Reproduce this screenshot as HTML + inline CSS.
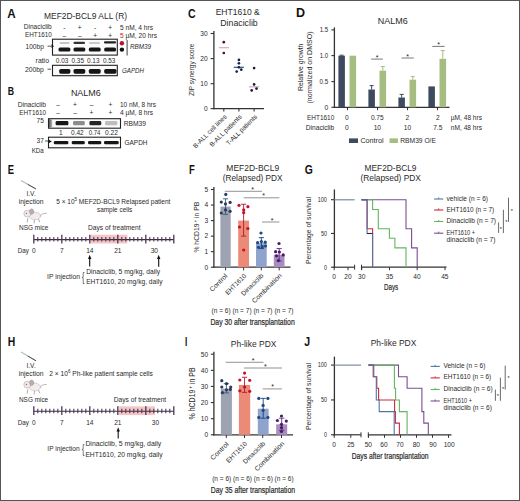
<!DOCTYPE html>
<html><head><meta charset="utf-8"><title>Figure</title>
<style>
html,body{margin:0;padding:0;background:#fff;}
body{width:520px;height:501px;overflow:hidden;}
svg{display:block;font-family:"Liberation Sans", sans-serif;}
</style></head>
<body>
<svg width="520" height="501" viewBox="0 0 520 501">
<defs><filter id="bl" x="-20%" y="-50%" width="140%" height="200%"><feGaussianBlur stdDeviation="0.35"/></filter>
<linearGradient id="gstrip" x1="0" y1="0" x2="1" y2="0"><stop offset="0" stop-color="#555"/><stop offset="1" stop-color="#bbb"/></linearGradient></defs>
<rect x="0" y="0" width="520" height="501" fill="#fff"/>
<text x="7.20" y="17.80" font-size="12.15" fill="#111" font-weight="bold" textLength="8.43" lengthAdjust="spacingAndGlyphs" >A</text>
<text x="44.00" y="18.54" font-size="8.5" fill="#2a2a2a" textLength="83.04" lengthAdjust="spacingAndGlyphs" >MEF2D-BCL9 ALL (R)</text>
<text x="23.80" y="29.16" font-size="6.6" fill="#2a2a2a" textLength="27.89" lengthAdjust="spacingAndGlyphs" >Dinaciclib</text>
<text x="25.00" y="37.16" font-size="6.6" fill="#2a2a2a" textLength="26.73" lengthAdjust="spacingAndGlyphs" >EHT1610</text>
<text x="64.40" y="29.56" font-size="6.6" fill="#2a2a2a" text-anchor="middle">-</text>
<text x="79.80" y="29.56" font-size="6.6" fill="#2a2a2a" text-anchor="middle">+</text>
<text x="95.20" y="29.56" font-size="6.6" fill="#2a2a2a" text-anchor="middle">-</text>
<text x="110.20" y="29.56" font-size="6.6" fill="#2a2a2a" text-anchor="middle">+</text>
<text x="64.40" y="37.66" font-size="6.6" fill="#2a2a2a" text-anchor="middle">–</text>
<text x="79.80" y="37.66" font-size="6.6" fill="#2a2a2a" text-anchor="middle">–</text>
<text x="95.20" y="37.66" font-size="6.6" fill="#2a2a2a" text-anchor="middle">+</text>
<text x="110.20" y="37.66" font-size="6.6" fill="#2a2a2a" text-anchor="middle">+</text>
<text x="120.00" y="29.76" font-size="6.6" fill="#2a2a2a" textLength="33.01" lengthAdjust="spacingAndGlyphs" >5 nM, 4 hrs</text>
<text x="120" y="37.76" font-size="6.6" fill="#2a2a2a" textLength="37" lengthAdjust="spacingAndGlyphs"><tspan fill="#c8102e">5</tspan> µM, 20 hrs</text>
<rect x="52.50" y="39.20" width="64.80" height="15.90" fill="#fbfbfb" stroke="#222" stroke-width="1.1"/>
<rect x="59.60" y="42.00" width="10.00" height="2.00" rx="1" fill="#c6c6c6" filter="url(#bl)"/>
<rect x="73.50" y="41.70" width="11.50" height="2.20" rx="1" fill="#333" filter="url(#bl)"/>
<rect x="89.00" y="42.00" width="11.00" height="2.00" rx="1" fill="#cacaca" filter="url(#bl)"/>
<rect x="104.00" y="41.30" width="12.00" height="2.30" rx="1" fill="#222" filter="url(#bl)"/>
<rect x="58.50" y="47.50" width="11.90" height="4.10" rx="1.6" fill="#141414" filter="url(#bl)"/>
<rect x="73.50" y="47.50" width="11.80" height="4.10" rx="1.6" fill="#141414" filter="url(#bl)"/>
<rect x="88.80" y="47.50" width="11.90" height="4.10" rx="1.6" fill="#141414" filter="url(#bl)"/>
<rect x="104.20" y="47.50" width="11.80" height="4.10" rx="1.6" fill="#141414" filter="url(#bl)"/>
<text x="25.60" y="48.56" font-size="6.6" fill="#2a2a2a" textLength="18.20" lengthAdjust="spacingAndGlyphs" >100bp</text>
<line x1="47.50" y1="46.20" x2="51.00" y2="46.20" stroke="#2a2a2a" stroke-width="0.8" />
<path d="M51.5 44.3 L54 46.2 L51.5 48.1 Z" fill="#111"/>
<circle cx="121.90" cy="43.20" r="2.2" fill="#b5123a"/>
<circle cx="121.90" cy="49.60" r="2.2" fill="#111"/>
<line x1="127.10" y1="40.00" x2="127.10" y2="55.50" stroke="#2a2a2a" stroke-width="0.9" />
<text x="130.00" y="48.86" font-size="6.6" fill="#2a2a2a" font-style="italic" textLength="21.03" lengthAdjust="spacingAndGlyphs" >RBM39</text>
<text x="35.60" y="62.66" font-size="6.6" fill="#2a2a2a" textLength="13.37" lengthAdjust="spacingAndGlyphs" >ratio</text>
<text x="55.80" y="62.66" font-size="6.6" fill="#2a2a2a" textLength="12.47" lengthAdjust="spacingAndGlyphs" >0.03</text>
<text x="71.50" y="62.66" font-size="6.6" fill="#2a2a2a" textLength="12.47" lengthAdjust="spacingAndGlyphs" >0.35</text>
<text x="87.00" y="62.66" font-size="6.6" fill="#2a2a2a" textLength="12.47" lengthAdjust="spacingAndGlyphs" >0.13</text>
<text x="103.00" y="62.66" font-size="6.6" fill="#2a2a2a" textLength="12.38" lengthAdjust="spacingAndGlyphs" >0.53</text>
<rect x="52.50" y="65.30" width="64.80" height="10.40" fill="#fbfbfb" stroke="#222" stroke-width="1.1"/>
<rect x="59.20" y="69.00" width="11.20" height="4.70" rx="1.6" fill="#141414" filter="url(#bl)"/>
<rect x="73.50" y="69.00" width="11.80" height="4.70" rx="1.6" fill="#141414" filter="url(#bl)"/>
<rect x="88.80" y="69.00" width="11.90" height="4.70" rx="1.6" fill="#141414" filter="url(#bl)"/>
<rect x="104.20" y="69.00" width="12.30" height="4.70" rx="1.6" fill="#141414" filter="url(#bl)"/>
<text x="25.00" y="71.56" font-size="6.6" fill="#2a2a2a" textLength="18.80" lengthAdjust="spacingAndGlyphs" >200bp</text>
<line x1="47.50" y1="69.20" x2="51.00" y2="69.20" stroke="#2a2a2a" stroke-width="0.8" />
<text x="122.00" y="73.36" font-size="6.6" fill="#2a2a2a" font-style="italic" textLength="21.98" lengthAdjust="spacingAndGlyphs" >GAPDH</text>
<text x="7.80" y="95.10" font-size="11.59" fill="#111" font-weight="bold" textLength="6.32" lengthAdjust="spacingAndGlyphs" >B</text>
<text x="70.90" y="95.70" font-size="8.6" fill="#2a2a2a" textLength="29.94" lengthAdjust="spacingAndGlyphs" >NALM6</text>
<text x="17.70" y="106.96" font-size="6.6" fill="#2a2a2a" textLength="28.29" lengthAdjust="spacingAndGlyphs" >Dinaciclib</text>
<text x="19.20" y="114.76" font-size="6.6" fill="#2a2a2a" textLength="26.83" lengthAdjust="spacingAndGlyphs" >EHT1610</text>
<text x="58.00" y="107.16" font-size="6.6" fill="#2a2a2a" text-anchor="middle">–</text>
<text x="75.00" y="107.16" font-size="6.6" fill="#2a2a2a" text-anchor="middle">+</text>
<text x="91.50" y="107.16" font-size="6.6" fill="#2a2a2a" text-anchor="middle">–</text>
<text x="110.50" y="107.16" font-size="6.6" fill="#2a2a2a" text-anchor="middle">+</text>
<text x="58.00" y="114.86" font-size="6.6" fill="#2a2a2a" text-anchor="middle">–</text>
<text x="75.00" y="114.86" font-size="6.6" fill="#2a2a2a" text-anchor="middle">–</text>
<text x="91.50" y="114.86" font-size="6.6" fill="#2a2a2a" text-anchor="middle">+</text>
<text x="110.50" y="114.86" font-size="6.6" fill="#2a2a2a" text-anchor="middle">+</text>
<text x="120.00" y="107.36" font-size="6.6" fill="#2a2a2a" textLength="35.98" lengthAdjust="spacingAndGlyphs" >10 nM, 8 hrs</text>
<text x="120.00" y="114.96" font-size="6.6" fill="#2a2a2a" textLength="33.01" lengthAdjust="spacingAndGlyphs" >4 µM, 8 hrs</text>
<text x="36.50" y="122.76" font-size="6.6" fill="#2a2a2a" textLength="7.31" lengthAdjust="spacingAndGlyphs" >75</text>
<rect x="48.50" y="118.70" width="72.00" height="9.50" fill="#fbfbfb" stroke="#222" stroke-width="1.1"/>
<rect x="49" y="119.2" width="3.2" height="8.5" fill="url(#gstrip)"/>
<rect x="55.60" y="121.00" width="12.80" height="4.30" rx="1.4" fill="#181818" filter="url(#bl)"/>
<rect x="73.00" y="121.00" width="11.80" height="4.30" rx="1.4" fill="#8c8c8c" filter="url(#bl)"/>
<rect x="89.40" y="121.00" width="11.90" height="4.30" rx="1.4" fill="#262626" filter="url(#bl)"/>
<rect x="105.00" y="121.00" width="12.40" height="4.30" rx="1.4" fill="#bdbdbd" filter="url(#bl)"/>
<text x="123.75" y="126.11" font-size="6.6" fill="#2a2a2a" textLength="22.28" lengthAdjust="spacingAndGlyphs" >RBM39</text>
<text x="60.75" y="135.36" font-size="6.6" fill="#2a2a2a" text-anchor="middle">1</text>
<text x="71.00" y="135.36" font-size="6.6" fill="#2a2a2a" textLength="12.72" lengthAdjust="spacingAndGlyphs" >0.42</text>
<text x="88.75" y="135.36" font-size="6.6" fill="#2a2a2a" textLength="11.73" lengthAdjust="spacingAndGlyphs" >0.74</text>
<text x="105.00" y="135.36" font-size="6.6" fill="#2a2a2a" textLength="12.97" lengthAdjust="spacingAndGlyphs" >0.22</text>
<text x="36.50" y="143.36" font-size="6.6" fill="#2a2a2a" textLength="7.31" lengthAdjust="spacingAndGlyphs" >37</text>
<line x1="45.00" y1="141.00" x2="48.00" y2="141.00" stroke="#2a2a2a" stroke-width="0.8" />
<rect x="48.50" y="137.20" width="72.00" height="10.60" fill="#fbfbfb" stroke="#222" stroke-width="1.1"/>
<rect x="53.80" y="140.90" width="14.60" height="3.40" rx="1.4" fill="#161616" filter="url(#bl)"/>
<rect x="71.70" y="140.90" width="13.10" height="3.40" rx="1.4" fill="#161616" filter="url(#bl)"/>
<rect x="88.00" y="140.90" width="13.30" height="3.40" rx="1.4" fill="#161616" filter="url(#bl)"/>
<rect x="104.00" y="140.90" width="14.70" height="3.40" rx="1.4" fill="#161616" filter="url(#bl)"/>
<path d="M48.6 139.6 L51.8 141.4 L48.6 143.2 Z" fill="#111"/>
<text x="124.50" y="144.96" font-size="6.6" fill="#2a2a2a" textLength="22.98" lengthAdjust="spacingAndGlyphs" >GAPDH</text>
<text x="31.70" y="153.16" font-size="6.6" fill="#2a2a2a" textLength="12.07" lengthAdjust="spacingAndGlyphs" >KDa</text>
<text x="188.00" y="17.60" font-size="12.43" fill="#111" font-weight="bold" textLength="7.62" lengthAdjust="spacingAndGlyphs" >C</text>
<text x="215.70" y="14.74" font-size="8.5" fill="#2a2a2a" textLength="44.09" lengthAdjust="spacingAndGlyphs" >EHT1610 &amp;</text>
<text x="220.30" y="25.64" font-size="8.5" fill="#2a2a2a" textLength="37.39" lengthAdjust="spacingAndGlyphs" >Dinaciclib</text>
<line x1="213.90" y1="30.90" x2="213.90" y2="109.20" stroke="#333" stroke-width="1.3" />
<line x1="213.30" y1="108.60" x2="264.00" y2="108.60" stroke="#333" stroke-width="1.3" />
<line x1="210.60" y1="33.50" x2="213.90" y2="33.50" stroke="#333" stroke-width="1.1" />
<text x="207.60" y="35.86" font-size="6.6" fill="#2a2a2a" text-anchor="end">30</text>
<line x1="210.60" y1="58.60" x2="213.90" y2="58.60" stroke="#333" stroke-width="1.1" />
<text x="207.60" y="60.96" font-size="6.6" fill="#2a2a2a" text-anchor="end">20</text>
<line x1="210.60" y1="83.70" x2="213.90" y2="83.70" stroke="#333" stroke-width="1.1" />
<text x="207.60" y="86.06" font-size="6.6" fill="#2a2a2a" text-anchor="end">10</text>
<line x1="210.60" y1="108.60" x2="213.90" y2="108.60" stroke="#333" stroke-width="1.1" />
<text x="207.60" y="110.96" font-size="6.6" fill="#2a2a2a" text-anchor="end">0</text>
<line x1="223.80" y1="108.60" x2="223.80" y2="111.50" stroke="#333" stroke-width="1.1" />
<line x1="238.90" y1="108.60" x2="238.90" y2="111.50" stroke="#333" stroke-width="1.1" />
<line x1="254.10" y1="108.60" x2="254.10" y2="111.50" stroke="#333" stroke-width="1.1" />
<text transform="translate(191.20,69.75) rotate(-90)" x="-26.25" y="2.58" font-size="7.2" fill="#2a2a2a" textLength="52.50" lengthAdjust="spacingAndGlyphs">ZIP synergy score</text>
<text transform="translate(227.20,117.20) rotate(-45)" x="0" y="0" font-size="6.6" fill="#2a2a2a" text-anchor="end" textLength="44.50" lengthAdjust="spacingAndGlyphs">B-ALL cell lines</text>
<text transform="translate(242.20,117.20) rotate(-45)" x="0" y="0" font-size="6.6" fill="#2a2a2a" text-anchor="end" textLength="42.50" lengthAdjust="spacingAndGlyphs">B-ALL patients</text>
<text transform="translate(257.40,117.20) rotate(-45)" x="0" y="0" font-size="6.6" fill="#2a2a2a" text-anchor="end" textLength="40.50" lengthAdjust="spacingAndGlyphs">T-ALL patients</text>
<line x1="218.80" y1="47.70" x2="229.00" y2="47.70" stroke="#e4a6b6" stroke-width="1.2" />
<circle cx="223.80" cy="42.20" r="1.35" fill="#3d1828"/>
<circle cx="223.80" cy="53.00" r="1.35" fill="#3d1828"/>
<line x1="233.70" y1="67.30" x2="243.90" y2="67.30" stroke="#2f5588" stroke-width="1.2" />
<circle cx="238.90" cy="59.90" r="1.35" fill="#16264a"/>
<circle cx="238.90" cy="63.30" r="1.35" fill="#16264a"/>
<circle cx="238.90" cy="67.30" r="1.35" fill="#16264a"/>
<circle cx="236.70" cy="71.60" r="1.35" fill="#16264a"/>
<circle cx="241.30" cy="69.70" r="1.35" fill="#16264a"/>
<line x1="248.90" y1="86.80" x2="259.20" y2="86.80" stroke="#cfa8c8" stroke-width="1.2" />
<circle cx="254.10" cy="68.10" r="1.35" fill="#241a2c"/>
<circle cx="254.10" cy="84.40" r="1.35" fill="#241a2c"/>
<circle cx="256.50" cy="88.60" r="1.35" fill="#241a2c"/>
<circle cx="251.70" cy="90.40" r="1.35" fill="#241a2c"/>
<text x="296.10" y="16.80" font-size="12.29" fill="#111" font-weight="bold" textLength="9.03" lengthAdjust="spacingAndGlyphs" >D</text>
<text x="377.70" y="24.10" font-size="8.6" fill="#2a2a2a" textLength="29.94" lengthAdjust="spacingAndGlyphs" >NALM6</text>
<text transform="translate(300.30,67.30) rotate(-90)" x="-23.70" y="2.51" font-size="7" fill="#2a2a2a" textLength="47.40" lengthAdjust="spacingAndGlyphs">Relative growth</text>
<text transform="translate(309.90,67.45) rotate(-90)" x="-36.05" y="2.51" font-size="7" fill="#2a2a2a" textLength="72.10" lengthAdjust="spacingAndGlyphs">(normalized on DMSO)</text>
<line x1="334.40" y1="27.40" x2="334.40" y2="107.90" stroke="#333" stroke-width="1.3" />
<line x1="333.80" y1="107.30" x2="449.50" y2="107.30" stroke="#333" stroke-width="1.3" />
<line x1="331.40" y1="29.90" x2="334.40" y2="29.90" stroke="#333" stroke-width="1.1" />
<text x="319.70" y="32.26" font-size="6.6" fill="#2a2a2a" textLength="8.50" lengthAdjust="spacingAndGlyphs" >1.5</text>
<line x1="331.40" y1="55.60" x2="334.40" y2="55.60" stroke="#333" stroke-width="1.1" />
<text x="319.70" y="57.96" font-size="6.6" fill="#2a2a2a" textLength="8.50" lengthAdjust="spacingAndGlyphs" >1.0</text>
<line x1="331.40" y1="81.60" x2="334.40" y2="81.60" stroke="#333" stroke-width="1.1" />
<text x="319.50" y="83.96" font-size="6.6" fill="#2a2a2a" textLength="8.70" lengthAdjust="spacingAndGlyphs" >0.5</text>
<line x1="331.40" y1="107.30" x2="334.40" y2="107.30" stroke="#333" stroke-width="1.1" />
<text x="324.40" y="109.66" font-size="6.6" fill="#2a2a2a" textLength="3.77" lengthAdjust="spacingAndGlyphs" >0</text>
<line x1="347.50" y1="107.30" x2="347.50" y2="110.20" stroke="#333" stroke-width="1" />
<line x1="341.65" y1="55.18" x2="341.65" y2="55.70" stroke="#3d4a5f" stroke-width="1" />
<line x1="339.65" y1="55.18" x2="343.65" y2="55.18" stroke="#3d4a5f" stroke-width="1" />
<rect x="338.40" y="55.70" width="6.50" height="51.60" fill="#3d4a5f" />
<rect x="349.50" y="55.70" width="6.60" height="51.60" fill="#a5bd80" />
<line x1="377.50" y1="107.30" x2="377.50" y2="110.20" stroke="#333" stroke-width="1" />
<line x1="371.65" y1="85.63" x2="371.65" y2="89.50" stroke="#3d4a5f" stroke-width="1" />
<line x1="369.65" y1="85.63" x2="373.65" y2="85.63" stroke="#3d4a5f" stroke-width="1" />
<rect x="368.40" y="89.50" width="6.50" height="17.80" fill="#3d4a5f" />
<line x1="382.80" y1="66.54" x2="382.80" y2="70.66" stroke="#a5bd80" stroke-width="1" />
<line x1="380.80" y1="66.54" x2="384.80" y2="66.54" stroke="#a5bd80" stroke-width="1" />
<rect x="379.50" y="70.66" width="6.60" height="36.64" fill="#a5bd80" />
<line x1="407.50" y1="107.30" x2="407.50" y2="110.20" stroke="#333" stroke-width="1" />
<line x1="401.65" y1="94.40" x2="401.65" y2="97.50" stroke="#3d4a5f" stroke-width="1" />
<line x1="399.65" y1="94.40" x2="403.65" y2="94.40" stroke="#3d4a5f" stroke-width="1" />
<rect x="398.40" y="97.50" width="6.50" height="9.80" fill="#3d4a5f" />
<line x1="412.80" y1="76.60" x2="412.80" y2="79.69" stroke="#a5bd80" stroke-width="1" />
<line x1="410.80" y1="76.60" x2="414.80" y2="76.60" stroke="#a5bd80" stroke-width="1" />
<rect x="409.50" y="79.69" width="6.60" height="27.61" fill="#a5bd80" />
<line x1="437.50" y1="107.30" x2="437.50" y2="110.20" stroke="#333" stroke-width="1" />
<rect x="428.40" y="86.40" width="6.50" height="20.90" fill="#3d4a5f" />
<line x1="442.80" y1="50.54" x2="442.80" y2="58.80" stroke="#a5bd80" stroke-width="1" />
<line x1="440.80" y1="50.54" x2="444.80" y2="50.54" stroke="#a5bd80" stroke-width="1" />
<rect x="439.50" y="58.80" width="6.60" height="48.50" fill="#a5bd80" />
<line x1="371.20" y1="59.10" x2="382.80" y2="59.10" stroke="#555" stroke-width="0.8" />
<text x="377.10" y="60.31" font-size="7" fill="#222" text-anchor="middle">*</text>
<line x1="401.50" y1="58.00" x2="413.80" y2="58.00" stroke="#555" stroke-width="0.8" />
<text x="407.60" y="58.71" font-size="7" fill="#222" text-anchor="middle">*</text>
<line x1="432.30" y1="46.40" x2="444.60" y2="46.40" stroke="#555" stroke-width="0.8" />
<text x="438.50" y="47.01" font-size="7" fill="#222" text-anchor="middle">*</text>
<text x="307.00" y="119.66" font-size="6.6" fill="#2a2a2a" textLength="27.23" lengthAdjust="spacingAndGlyphs" >EHT1610</text>
<text x="305.80" y="129.56" font-size="6.6" fill="#2a2a2a" textLength="28.39" lengthAdjust="spacingAndGlyphs" >Dinaciclib</text>
<text x="346.90" y="119.66" font-size="6.6" fill="#2a2a2a" text-anchor="middle">0</text>
<text x="377.30" y="119.66" font-size="6.6" fill="#2a2a2a" text-anchor="middle">0.75</text>
<text x="407.40" y="119.66" font-size="6.6" fill="#2a2a2a" text-anchor="middle">2</text>
<text x="437.80" y="119.66" font-size="6.6" fill="#2a2a2a" text-anchor="middle">2</text>
<text x="346.90" y="129.56" font-size="6.6" fill="#2a2a2a" text-anchor="middle">0</text>
<text x="377.30" y="129.56" font-size="6.6" fill="#2a2a2a" text-anchor="middle">10</text>
<text x="407.40" y="129.56" font-size="6.6" fill="#2a2a2a" text-anchor="middle">10</text>
<text x="437.80" y="129.56" font-size="6.6" fill="#2a2a2a" text-anchor="middle">7.5</text>
<text x="450.80" y="119.66" font-size="6.6" fill="#2a2a2a" textLength="31.23" lengthAdjust="spacingAndGlyphs" >µM, 48 hrs</text>
<text x="450.80" y="129.56" font-size="6.6" fill="#2a2a2a" textLength="31.22" lengthAdjust="spacingAndGlyphs" >nM, 48 hrs</text>
<rect x="349.00" y="138.40" width="9.00" height="4.60" fill="#3d4a5f" />
<text x="360.40" y="143.26" font-size="6.6" fill="#2a2a2a" textLength="23.12" lengthAdjust="spacingAndGlyphs" >Control</text>
<rect x="389.50" y="138.40" width="8.40" height="4.60" fill="#a5bd80" />
<text x="400.30" y="143.26" font-size="6.6" fill="#2a2a2a" textLength="35.63" lengthAdjust="spacingAndGlyphs" >RBM39 O/E</text>
<text x="7.80" y="173.80" font-size="11.87" fill="#111" font-weight="bold" textLength="6.27" lengthAdjust="spacingAndGlyphs" >E</text>
<line x1="21" y1="180.5" x2="36" y2="189" stroke="#b8b8b8" stroke-width="1.1"/>
<line x1="27.75" y1="184.32" x2="36" y2="189" stroke="#555" stroke-width="1"/>
<text x="31.10" y="195.56" font-size="6.6" fill="#2a2a2a" text-anchor="middle">I.V.</text>
<text x="18.70" y="203.86" font-size="6.6" fill="#2a2a2a" textLength="24.89" lengthAdjust="spacingAndGlyphs" >injection</text>
<text x="56.2" y="203.86" font-size="6.6" fill="#2a2a2a" textLength="114.2" lengthAdjust="spacingAndGlyphs">5 × 10<tspan font-size="4.5" dy="-2.5">5</tspan><tspan dy="2.5"> MEF2D-BCL9 Relapsed patient</tspan></text>
<text x="97.00" y="212.16" font-size="6.6" fill="#2a2a2a" textLength="35.31" lengthAdjust="spacingAndGlyphs" >sample cells</text>
<g transform="translate(20.00,206.00)" stroke-linecap="round"><path d="M20 9.5 Q23 6.8 26.5 7.2" fill="none" stroke="#a89c9d" stroke-width="0.7"/><path d="M7.8 12.5 L7.2 16.2 M14.5 13.8 L14.2 17 M18.5 12.8 L19.6 15.8" fill="none" stroke="#a3979a" stroke-width="0.8"/><ellipse cx="15" cy="10" rx="5.6" ry="3.9" fill="#f3ecec" stroke="#bcb0b1" stroke-width="0.55"/><ellipse cx="7.4" cy="7.6" rx="3.6" ry="3.4" fill="#f1e9e9" stroke="#b3a6a7" stroke-width="0.55"/><ellipse cx="11.6" cy="5.6" rx="2.1" ry="2.8" fill="#b9acae" stroke="#a09294" stroke-width="0.4"/><circle cx="6.4" cy="7.4" r="0.7" fill="#7f7475"/></g>
<text x="19.00" y="230.16" font-size="6.6" fill="#2a2a2a" textLength="29.37" lengthAdjust="spacingAndGlyphs" >NSG mice</text>
<text x="88.00" y="230.26" font-size="6.6" fill="#2a2a2a" textLength="52.61" lengthAdjust="spacingAndGlyphs" >Days of treatment</text>
<rect x="90.60" y="234.70" width="36.80" height="8.80" fill="#f4c6c6" />
<line x1="33.80" y1="239.60" x2="173.80" y2="239.60" stroke="#3a2c3e" stroke-width="1.1" />
<line x1="33.80" y1="234.70" x2="33.80" y2="243.50" stroke="#4f3656" stroke-width="1.3" />
<line x1="37.80" y1="237.10" x2="37.80" y2="241.60" stroke="#4f3656" stroke-width="1.1" />
<line x1="41.80" y1="237.10" x2="41.80" y2="241.60" stroke="#4f3656" stroke-width="1.1" />
<line x1="45.80" y1="237.10" x2="45.80" y2="241.60" stroke="#4f3656" stroke-width="1.1" />
<line x1="49.80" y1="237.10" x2="49.80" y2="241.60" stroke="#4f3656" stroke-width="1.1" />
<line x1="53.80" y1="237.10" x2="53.80" y2="241.60" stroke="#4f3656" stroke-width="1.1" />
<line x1="57.80" y1="237.10" x2="57.80" y2="241.60" stroke="#4f3656" stroke-width="1.1" />
<line x1="61.80" y1="234.70" x2="61.80" y2="243.50" stroke="#4f3656" stroke-width="1.3" />
<line x1="65.80" y1="237.10" x2="65.80" y2="241.60" stroke="#4f3656" stroke-width="1.1" />
<line x1="69.80" y1="237.10" x2="69.80" y2="241.60" stroke="#4f3656" stroke-width="1.1" />
<line x1="73.80" y1="237.10" x2="73.80" y2="241.60" stroke="#4f3656" stroke-width="1.1" />
<line x1="77.80" y1="237.10" x2="77.80" y2="241.60" stroke="#4f3656" stroke-width="1.1" />
<line x1="81.80" y1="237.10" x2="81.80" y2="241.60" stroke="#4f3656" stroke-width="1.1" />
<line x1="85.80" y1="237.10" x2="85.80" y2="241.60" stroke="#4f3656" stroke-width="1.1" />
<line x1="89.80" y1="234.70" x2="89.80" y2="243.50" stroke="#4f3656" stroke-width="1.3" />
<line x1="93.80" y1="237.10" x2="93.80" y2="241.60" stroke="#4f3656" stroke-width="1.1" />
<line x1="97.80" y1="237.10" x2="97.80" y2="241.60" stroke="#4f3656" stroke-width="1.1" />
<line x1="101.80" y1="237.10" x2="101.80" y2="241.60" stroke="#4f3656" stroke-width="1.1" />
<line x1="105.80" y1="237.10" x2="105.80" y2="241.60" stroke="#4f3656" stroke-width="1.1" />
<line x1="109.80" y1="237.10" x2="109.80" y2="241.60" stroke="#4f3656" stroke-width="1.1" />
<line x1="113.80" y1="237.10" x2="113.80" y2="241.60" stroke="#4f3656" stroke-width="1.1" />
<line x1="117.80" y1="234.70" x2="117.80" y2="243.50" stroke="#4f3656" stroke-width="1.3" />
<line x1="121.80" y1="237.10" x2="121.80" y2="241.60" stroke="#4f3656" stroke-width="1.1" />
<line x1="125.80" y1="237.10" x2="125.80" y2="241.60" stroke="#4f3656" stroke-width="1.1" />
<line x1="129.80" y1="237.10" x2="129.80" y2="241.60" stroke="#4f3656" stroke-width="1.1" />
<line x1="133.80" y1="237.10" x2="133.80" y2="241.60" stroke="#4f3656" stroke-width="1.1" />
<line x1="137.80" y1="237.10" x2="137.80" y2="241.60" stroke="#4f3656" stroke-width="1.1" />
<line x1="141.80" y1="237.10" x2="141.80" y2="241.60" stroke="#4f3656" stroke-width="1.1" />
<line x1="145.80" y1="234.70" x2="145.80" y2="243.50" stroke="#4f3656" stroke-width="1.3" />
<line x1="149.80" y1="237.10" x2="149.80" y2="241.60" stroke="#4f3656" stroke-width="1.1" />
<line x1="153.80" y1="237.10" x2="153.80" y2="241.60" stroke="#4f3656" stroke-width="1.1" />
<line x1="157.80" y1="237.10" x2="157.80" y2="241.60" stroke="#4f3656" stroke-width="1.1" />
<line x1="161.80" y1="237.10" x2="161.80" y2="241.60" stroke="#4f3656" stroke-width="1.1" />
<line x1="165.80" y1="237.10" x2="165.80" y2="241.60" stroke="#4f3656" stroke-width="1.1" />
<line x1="169.80" y1="237.10" x2="169.80" y2="241.60" stroke="#4f3656" stroke-width="1.1" />
<line x1="173.80" y1="234.70" x2="173.80" y2="243.50" stroke="#4f3656" stroke-width="1.3" />
<text x="17.80" y="253.06" font-size="6.6" fill="#2a2a2a" textLength="11.19" lengthAdjust="spacingAndGlyphs" >Day</text>
<text x="33.80" y="253.06" font-size="6.6" fill="#2a2a2a" text-anchor="middle">0</text>
<text x="61.80" y="253.06" font-size="6.6" fill="#2a2a2a" text-anchor="middle">7</text>
<text x="89.80" y="253.06" font-size="6.6" fill="#2a2a2a" text-anchor="middle">14</text>
<text x="117.80" y="253.06" font-size="6.6" fill="#2a2a2a" text-anchor="middle">21</text>
<text x="154.30" y="253.06" font-size="6.6" fill="#2a2a2a" text-anchor="middle">30</text>
<line x1="89.70" y1="258.30" x2="89.70" y2="266.60" stroke="#111" stroke-width="1.1" />
<path d="M88.00 259.10 L89.70 254.80 L91.40 259.10 Z" fill="#111"/>
<line x1="158.70" y1="258.30" x2="158.70" y2="266.80" stroke="#111" stroke-width="1.1" />
<path d="M157.00 259.10 L158.70 254.80 L160.40 259.10 Z" fill="#111"/>
<text x="47.00" y="278.76" font-size="6.6" fill="#2a2a2a" textLength="33.02" lengthAdjust="spacingAndGlyphs" >IP injection</text>
<text x="82.0" y="280" font-size="10" fill="#2a2a2a" transform="translate(82.0 277) scale(0.7 1.3) translate(-82.0 -277)">{</text>
<text x="86.20" y="274.46" font-size="6.6" fill="#2a2a2a" textLength="73.83" lengthAdjust="spacingAndGlyphs" >Dinaciclib, 5 mg/kg, daily</text>
<text x="86.20" y="284.46" font-size="6.6" fill="#2a2a2a" textLength="76.27" lengthAdjust="spacingAndGlyphs" >EHT1610, 20 mg/kg, daily</text>
<text x="7.80" y="345.70" font-size="12.15" fill="#111" font-weight="bold" textLength="7.52" lengthAdjust="spacingAndGlyphs" >H</text>
<line x1="21" y1="352.1" x2="36" y2="360.8" stroke="#b8b8b8" stroke-width="1.1"/>
<line x1="27.75" y1="356.02" x2="36" y2="360.8" stroke="#555" stroke-width="1"/>
<text x="31.10" y="367.86" font-size="6.6" fill="#2a2a2a" text-anchor="middle">I.V.</text>
<text x="18.70" y="375.76" font-size="6.6" fill="#2a2a2a" textLength="24.89" lengthAdjust="spacingAndGlyphs" >injection</text>
<text x="49.3" y="375.96" font-size="6.6" fill="#2a2a2a" textLength="103.6" lengthAdjust="spacingAndGlyphs">2 × 10<tspan font-size="4.5" dy="-2.5">6</tspan><tspan dy="2.5"> Ph-like patient sample cells</tspan></text>
<g transform="translate(20.00,377.10)" stroke-linecap="round"><path d="M20 9.5 Q23 6.8 26.5 7.2" fill="none" stroke="#a89c9d" stroke-width="0.7"/><path d="M7.8 12.5 L7.2 16.2 M14.5 13.8 L14.2 17 M18.5 12.8 L19.6 15.8" fill="none" stroke="#a3979a" stroke-width="0.8"/><ellipse cx="15" cy="10" rx="5.6" ry="3.9" fill="#f3ecec" stroke="#bcb0b1" stroke-width="0.55"/><ellipse cx="7.4" cy="7.6" rx="3.6" ry="3.4" fill="#f1e9e9" stroke="#b3a6a7" stroke-width="0.55"/><ellipse cx="11.6" cy="5.6" rx="2.1" ry="2.8" fill="#b9acae" stroke="#a09294" stroke-width="0.4"/><circle cx="6.4" cy="7.4" r="0.7" fill="#7f7475"/></g>
<text x="19.00" y="402.46" font-size="6.6" fill="#2a2a2a" textLength="29.17" lengthAdjust="spacingAndGlyphs" >NSG mice</text>
<text x="113.80" y="402.46" font-size="6.6" fill="#2a2a2a" textLength="52.41" lengthAdjust="spacingAndGlyphs" >Days of treatment</text>
<rect x="118.60" y="406.30" width="36.40" height="8.80" fill="#f4c6c6" />
<line x1="33.80" y1="411.20" x2="173.80" y2="411.20" stroke="#3a2c3e" stroke-width="1.1" />
<line x1="33.80" y1="406.30" x2="33.80" y2="415.10" stroke="#4f3656" stroke-width="1.3" />
<line x1="37.80" y1="408.70" x2="37.80" y2="413.20" stroke="#4f3656" stroke-width="1.1" />
<line x1="41.80" y1="408.70" x2="41.80" y2="413.20" stroke="#4f3656" stroke-width="1.1" />
<line x1="45.80" y1="408.70" x2="45.80" y2="413.20" stroke="#4f3656" stroke-width="1.1" />
<line x1="49.80" y1="408.70" x2="49.80" y2="413.20" stroke="#4f3656" stroke-width="1.1" />
<line x1="53.80" y1="408.70" x2="53.80" y2="413.20" stroke="#4f3656" stroke-width="1.1" />
<line x1="57.80" y1="408.70" x2="57.80" y2="413.20" stroke="#4f3656" stroke-width="1.1" />
<line x1="61.80" y1="406.30" x2="61.80" y2="415.10" stroke="#4f3656" stroke-width="1.3" />
<line x1="65.80" y1="408.70" x2="65.80" y2="413.20" stroke="#4f3656" stroke-width="1.1" />
<line x1="69.80" y1="408.70" x2="69.80" y2="413.20" stroke="#4f3656" stroke-width="1.1" />
<line x1="73.80" y1="408.70" x2="73.80" y2="413.20" stroke="#4f3656" stroke-width="1.1" />
<line x1="77.80" y1="408.70" x2="77.80" y2="413.20" stroke="#4f3656" stroke-width="1.1" />
<line x1="81.80" y1="408.70" x2="81.80" y2="413.20" stroke="#4f3656" stroke-width="1.1" />
<line x1="85.80" y1="408.70" x2="85.80" y2="413.20" stroke="#4f3656" stroke-width="1.1" />
<line x1="89.80" y1="406.30" x2="89.80" y2="415.10" stroke="#4f3656" stroke-width="1.3" />
<line x1="93.80" y1="408.70" x2="93.80" y2="413.20" stroke="#4f3656" stroke-width="1.1" />
<line x1="97.80" y1="408.70" x2="97.80" y2="413.20" stroke="#4f3656" stroke-width="1.1" />
<line x1="101.80" y1="408.70" x2="101.80" y2="413.20" stroke="#4f3656" stroke-width="1.1" />
<line x1="105.80" y1="408.70" x2="105.80" y2="413.20" stroke="#4f3656" stroke-width="1.1" />
<line x1="109.80" y1="408.70" x2="109.80" y2="413.20" stroke="#4f3656" stroke-width="1.1" />
<line x1="113.80" y1="408.70" x2="113.80" y2="413.20" stroke="#4f3656" stroke-width="1.1" />
<line x1="117.80" y1="406.30" x2="117.80" y2="415.10" stroke="#4f3656" stroke-width="1.3" />
<line x1="121.80" y1="408.70" x2="121.80" y2="413.20" stroke="#4f3656" stroke-width="1.1" />
<line x1="125.80" y1="408.70" x2="125.80" y2="413.20" stroke="#4f3656" stroke-width="1.1" />
<line x1="129.80" y1="408.70" x2="129.80" y2="413.20" stroke="#4f3656" stroke-width="1.1" />
<line x1="133.80" y1="408.70" x2="133.80" y2="413.20" stroke="#4f3656" stroke-width="1.1" />
<line x1="137.80" y1="408.70" x2="137.80" y2="413.20" stroke="#4f3656" stroke-width="1.1" />
<line x1="141.80" y1="408.70" x2="141.80" y2="413.20" stroke="#4f3656" stroke-width="1.1" />
<line x1="145.80" y1="406.30" x2="145.80" y2="415.10" stroke="#4f3656" stroke-width="1.3" />
<line x1="149.80" y1="408.70" x2="149.80" y2="413.20" stroke="#4f3656" stroke-width="1.1" />
<line x1="153.80" y1="408.70" x2="153.80" y2="413.20" stroke="#4f3656" stroke-width="1.1" />
<line x1="157.80" y1="408.70" x2="157.80" y2="413.20" stroke="#4f3656" stroke-width="1.1" />
<line x1="161.80" y1="408.70" x2="161.80" y2="413.20" stroke="#4f3656" stroke-width="1.1" />
<line x1="165.80" y1="408.70" x2="165.80" y2="413.20" stroke="#4f3656" stroke-width="1.1" />
<line x1="169.80" y1="408.70" x2="169.80" y2="413.20" stroke="#4f3656" stroke-width="1.1" />
<line x1="173.80" y1="406.30" x2="173.80" y2="415.10" stroke="#4f3656" stroke-width="1.3" />
<text x="17.80" y="424.96" font-size="6.6" fill="#2a2a2a" textLength="11.19" lengthAdjust="spacingAndGlyphs" >Day</text>
<text x="33.80" y="424.96" font-size="6.6" fill="#2a2a2a" text-anchor="middle">0</text>
<text x="61.80" y="424.96" font-size="6.6" fill="#2a2a2a" text-anchor="middle">7</text>
<text x="89.80" y="424.96" font-size="6.6" fill="#2a2a2a" text-anchor="middle">14</text>
<text x="117.80" y="424.96" font-size="6.6" fill="#2a2a2a" text-anchor="middle">21</text>
<text x="155.40" y="424.96" font-size="6.6" fill="#2a2a2a" text-anchor="middle">30</text>
<line x1="118.20" y1="430.80" x2="118.20" y2="438.40" stroke="#111" stroke-width="1.1" />
<path d="M116.50 431.60 L118.20 427.30 L119.90 431.60 Z" fill="#111"/>
<text x="47.30" y="450.86" font-size="6.6" fill="#2a2a2a" textLength="32.32" lengthAdjust="spacingAndGlyphs" >IP injection</text>
<text x="82.0" y="452" font-size="10" fill="#2a2a2a" transform="translate(82.0 449) scale(0.7 1.3) translate(-82.0 -449)">{</text>
<text x="85.40" y="445.96" font-size="6.6" fill="#2a2a2a" textLength="75.83" lengthAdjust="spacingAndGlyphs" >Dinaciclib, 5 mg/kg, daily</text>
<text x="85.40" y="456.56" font-size="6.6" fill="#2a2a2a" textLength="77.27" lengthAdjust="spacingAndGlyphs" >EHT1610, 20 mg/kg, daily</text>
<text x="188.90" y="173.80" font-size="12.01" fill="#111" font-weight="bold" textLength="5.81" lengthAdjust="spacingAndGlyphs" >F</text>
<text x="226.30" y="170.80" font-size="8.2" fill="#2a2a2a" textLength="52.93" lengthAdjust="spacingAndGlyphs" >MEF2D-BCL9</text>
<text x="222.70" y="181.20" font-size="8.2" fill="#2a2a2a" textLength="59.94" lengthAdjust="spacingAndGlyphs" >(Relapsed) PDX</text>
<text transform="translate(196.40,227.15) rotate(-90)" x="-25.45" y="2.83" font-size="7.9" fill="#2a2a2a" textLength="50.90" lengthAdjust="spacingAndGlyphs">% hCD19<tspan font-size="4.8" dy="-2.4"> +</tspan><tspan dy="2.4"> in PB</tspan></text>
<line x1="213.90" y1="187.10" x2="213.90" y2="267.80" stroke="#333" stroke-width="1.3" />
<line x1="213.30" y1="267.20" x2="290.50" y2="267.20" stroke="#333" stroke-width="1.3" />
<line x1="210.90" y1="267.20" x2="213.90" y2="267.20" stroke="#333" stroke-width="1.1" />
<text x="208.10" y="269.56" font-size="6.6" fill="#2a2a2a" text-anchor="end">0</text>
<line x1="210.90" y1="251.66" x2="213.90" y2="251.66" stroke="#333" stroke-width="1.1" />
<text x="208.10" y="254.02" font-size="6.6" fill="#2a2a2a" text-anchor="end">1</text>
<line x1="210.90" y1="236.12" x2="213.90" y2="236.12" stroke="#333" stroke-width="1.1" />
<text x="208.10" y="238.48" font-size="6.6" fill="#2a2a2a" text-anchor="end">2</text>
<line x1="210.90" y1="220.58" x2="213.90" y2="220.58" stroke="#333" stroke-width="1.1" />
<text x="208.10" y="222.94" font-size="6.6" fill="#2a2a2a" text-anchor="end">3</text>
<line x1="210.90" y1="205.04" x2="213.90" y2="205.04" stroke="#333" stroke-width="1.1" />
<text x="208.10" y="207.40" font-size="6.6" fill="#2a2a2a" text-anchor="end">4</text>
<line x1="210.90" y1="189.50" x2="213.90" y2="189.50" stroke="#333" stroke-width="1.1" />
<text x="208.10" y="191.86" font-size="6.6" fill="#2a2a2a" text-anchor="end">5</text>
<line x1="225.60" y1="267.20" x2="225.60" y2="270.40" stroke="#333" stroke-width="1" />
<line x1="243.60" y1="267.20" x2="243.60" y2="270.40" stroke="#333" stroke-width="1" />
<line x1="261.30" y1="267.20" x2="261.30" y2="270.40" stroke="#333" stroke-width="1" />
<line x1="279.20" y1="267.20" x2="279.20" y2="270.40" stroke="#333" stroke-width="1" />
<rect x="220.40" y="206.59" width="10.30" height="60.61" fill="#9ea3b4" />
<rect x="238.20" y="220.58" width="10.80" height="46.62" fill="#ec8a78" />
<rect x="256.00" y="243.11" width="10.70" height="24.09" fill="#8fa3cd" />
<rect x="273.80" y="254.77" width="10.70" height="12.43" fill="#a88dbf" />
<line x1="225.55" y1="198.82" x2="225.55" y2="214.36" stroke="#3b5a70" stroke-width="0.9" />
<line x1="222.95" y1="198.82" x2="228.15" y2="198.82" stroke="#3b5a70" stroke-width="0.9" />
<line x1="222.95" y1="214.36" x2="228.15" y2="214.36" stroke="#3b5a70" stroke-width="0.9" />
<line x1="243.60" y1="204.26" x2="243.60" y2="236.12" stroke="#b51a30" stroke-width="0.9" />
<line x1="241.00" y1="204.26" x2="246.20" y2="204.26" stroke="#b51a30" stroke-width="0.9" />
<line x1="241.00" y1="236.12" x2="246.20" y2="236.12" stroke="#b51a30" stroke-width="0.9" />
<line x1="261.35" y1="237.67" x2="261.35" y2="248.55" stroke="#1c3f78" stroke-width="0.9" />
<line x1="258.75" y1="237.67" x2="263.95" y2="237.67" stroke="#1c3f78" stroke-width="0.9" />
<line x1="258.75" y1="248.55" x2="263.95" y2="248.55" stroke="#1c3f78" stroke-width="0.9" />
<line x1="279.15" y1="248.55" x2="279.15" y2="260.98" stroke="#5a2a78" stroke-width="0.9" />
<line x1="276.55" y1="248.55" x2="281.75" y2="248.55" stroke="#5a2a78" stroke-width="0.9" />
<line x1="276.55" y1="260.98" x2="281.75" y2="260.98" stroke="#5a2a78" stroke-width="0.9" />
<circle cx="225.80" cy="194.40" r="1.6" fill="#2b3d5c"/>
<circle cx="221.30" cy="202.10" r="1.6" fill="#2b3d5c"/>
<circle cx="225.50" cy="203.90" r="1.6" fill="#2b3d5c"/>
<circle cx="230.10" cy="202.40" r="1.6" fill="#2b3d5c"/>
<circle cx="225.50" cy="209.90" r="1.6" fill="#2b3d5c"/>
<circle cx="230.10" cy="211.30" r="1.6" fill="#2b3d5c"/>
<circle cx="221.30" cy="213.00" r="1.6" fill="#2b3d5c"/>
<circle cx="239.00" cy="205.30" r="1.6" fill="#c8102e"/>
<circle cx="247.90" cy="206.70" r="1.6" fill="#c8102e"/>
<circle cx="243.70" cy="209.90" r="1.6" fill="#c8102e"/>
<circle cx="243.70" cy="212.70" r="1.6" fill="#c8102e"/>
<circle cx="239.50" cy="227.00" r="1.6" fill="#c8102e"/>
<circle cx="247.90" cy="228.60" r="1.6" fill="#c8102e"/>
<circle cx="243.70" cy="250.00" r="1.6" fill="#c8102e"/>
<circle cx="261.00" cy="233.00" r="1.6" fill="#1d4a85"/>
<circle cx="257.60" cy="242.60" r="1.6" fill="#1d4a85"/>
<circle cx="261.40" cy="241.60" r="1.6" fill="#1d4a85"/>
<circle cx="265.20" cy="242.20" r="1.6" fill="#1d4a85"/>
<circle cx="258.50" cy="247.30" r="1.6" fill="#1d4a85"/>
<circle cx="262.30" cy="246.70" r="1.6" fill="#1d4a85"/>
<circle cx="265.50" cy="246.00" r="1.6" fill="#1d4a85"/>
<circle cx="279.00" cy="243.50" r="1.6" fill="#4b1a6b"/>
<circle cx="275.60" cy="251.70" r="1.6" fill="#4b1a6b"/>
<circle cx="279.40" cy="252.00" r="1.6" fill="#4b1a6b"/>
<circle cx="283.20" cy="254.90" r="1.6" fill="#4b1a6b"/>
<circle cx="276.50" cy="255.80" r="1.6" fill="#4b1a6b"/>
<circle cx="278.40" cy="260.60" r="1.6" fill="#4b1a6b"/>
<line x1="224.80" y1="191.30" x2="262.00" y2="191.30" stroke="#777" stroke-width="0.8" />
<text x="252.50" y="192.31" font-size="7" fill="#222" text-anchor="middle">*</text>
<line x1="243.70" y1="197.80" x2="279.40" y2="197.80" stroke="#777" stroke-width="0.8" />
<text x="263.60" y="198.11" font-size="7" fill="#222" text-anchor="middle">*</text>
<line x1="262.00" y1="222.00" x2="279.40" y2="222.00" stroke="#777" stroke-width="0.8" />
<text x="272.00" y="223.11" font-size="7" fill="#222" text-anchor="middle">*</text>
<text transform="translate(227.80,276.50) rotate(-45)" x="0" y="0" font-size="6.6" fill="#2a2a2a" text-anchor="end" textLength="22.00" lengthAdjust="spacingAndGlyphs">Control</text>
<text transform="translate(246.70,276.50) rotate(-45)" x="0" y="0" font-size="6.6" fill="#2a2a2a" text-anchor="end" textLength="26.50" lengthAdjust="spacingAndGlyphs">EHT1610</text>
<text transform="translate(263.80,276.20) rotate(-45)" x="0" y="0" font-size="6.6" fill="#2a2a2a" text-anchor="end" textLength="28.30" lengthAdjust="spacingAndGlyphs">Dinaciclib</text>
<text transform="translate(282.20,276.00) rotate(-45)" x="0" y="0" font-size="6.6" fill="#2a2a2a" text-anchor="end" textLength="39.00" lengthAdjust="spacingAndGlyphs">Combination</text>
<text x="211.50" y="313.06" font-size="6.6" fill="#2a2a2a" textLength="82.03" lengthAdjust="spacingAndGlyphs" >(n = 6) (n = 7) (n = 7) (n = 7)</text>
<text x="210.40" y="324.79" font-size="9.2" fill="#2a2a2a" textLength="84.33" lengthAdjust="spacingAndGlyphs" stroke="#2a2a2a" stroke-width="0.22">Day 30 after transplantation</text>
<text x="184.90" y="345.70" font-size="12.15" fill="#111" font-weight="bold" textLength="2.28" lengthAdjust="spacingAndGlyphs" >I</text>
<text x="230.80" y="347.34" font-size="8.5" fill="#2a2a2a" textLength="45.71" lengthAdjust="spacingAndGlyphs" >Ph-like PDX</text>
<text transform="translate(192.00,393.40) rotate(-90)" x="-26.00" y="2.97" font-size="8.3" fill="#2a2a2a" textLength="52.00" lengthAdjust="spacingAndGlyphs">% hCD19<tspan font-size="5" dy="-2.5"> +</tspan><tspan dy="2.5"> in PB</tspan></text>
<line x1="213.90" y1="351.70" x2="213.90" y2="435.40" stroke="#333" stroke-width="1.3" />
<line x1="213.30" y1="434.80" x2="293.00" y2="434.80" stroke="#333" stroke-width="1.3" />
<line x1="210.90" y1="434.80" x2="213.90" y2="434.80" stroke="#333" stroke-width="1.1" />
<text x="208.10" y="437.16" font-size="6.6" fill="#2a2a2a" text-anchor="end">0</text>
<line x1="210.90" y1="418.68" x2="213.90" y2="418.68" stroke="#333" stroke-width="1.1" />
<text x="208.10" y="421.04" font-size="6.6" fill="#2a2a2a" text-anchor="end">10</text>
<line x1="210.90" y1="402.56" x2="213.90" y2="402.56" stroke="#333" stroke-width="1.1" />
<text x="208.10" y="404.92" font-size="6.6" fill="#2a2a2a" text-anchor="end">20</text>
<line x1="210.90" y1="386.44" x2="213.90" y2="386.44" stroke="#333" stroke-width="1.1" />
<text x="208.10" y="388.80" font-size="6.6" fill="#2a2a2a" text-anchor="end">30</text>
<line x1="210.90" y1="370.32" x2="213.90" y2="370.32" stroke="#333" stroke-width="1.1" />
<text x="208.10" y="372.68" font-size="6.6" fill="#2a2a2a" text-anchor="end">40</text>
<line x1="210.90" y1="354.20" x2="213.90" y2="354.20" stroke="#333" stroke-width="1.1" />
<text x="208.10" y="356.56" font-size="6.6" fill="#2a2a2a" text-anchor="end">50</text>
<line x1="226.30" y1="434.80" x2="226.30" y2="438.00" stroke="#333" stroke-width="1" />
<line x1="244.50" y1="434.80" x2="244.50" y2="438.00" stroke="#333" stroke-width="1" />
<line x1="262.70" y1="434.80" x2="262.70" y2="438.00" stroke="#333" stroke-width="1" />
<line x1="281.50" y1="434.80" x2="281.50" y2="438.00" stroke="#333" stroke-width="1" />
<rect x="220.90" y="388.70" width="11.00" height="46.10" fill="#9ea3b4" />
<rect x="238.90" y="384.99" width="11.30" height="49.81" fill="#ec8a78" />
<rect x="257.80" y="408.69" width="10.80" height="26.11" fill="#8fa3cd" />
<rect x="276.20" y="424.32" width="11.00" height="10.48" fill="#a88dbf" />
<line x1="226.40" y1="383.70" x2="226.40" y2="392.89" stroke="#3b5a70" stroke-width="0.9" />
<line x1="223.80" y1="383.70" x2="229.00" y2="383.70" stroke="#3b5a70" stroke-width="0.9" />
<line x1="223.80" y1="392.89" x2="229.00" y2="392.89" stroke="#3b5a70" stroke-width="0.9" />
<line x1="244.55" y1="377.25" x2="244.55" y2="392.40" stroke="#b51a30" stroke-width="0.9" />
<line x1="241.95" y1="377.25" x2="247.15" y2="377.25" stroke="#b51a30" stroke-width="0.9" />
<line x1="241.95" y1="392.40" x2="247.15" y2="392.40" stroke="#b51a30" stroke-width="0.9" />
<line x1="263.20" y1="398.37" x2="263.20" y2="418.20" stroke="#1c3f78" stroke-width="0.9" />
<line x1="260.60" y1="398.37" x2="265.80" y2="398.37" stroke="#1c3f78" stroke-width="0.9" />
<line x1="260.60" y1="418.20" x2="265.80" y2="418.20" stroke="#1c3f78" stroke-width="0.9" />
<line x1="281.70" y1="418.20" x2="281.70" y2="430.29" stroke="#5a2a78" stroke-width="0.9" />
<line x1="279.10" y1="418.20" x2="284.30" y2="418.20" stroke="#5a2a78" stroke-width="0.9" />
<line x1="279.10" y1="430.29" x2="284.30" y2="430.29" stroke="#5a2a78" stroke-width="0.9" />
<circle cx="221.80" cy="380.70" r="1.6" fill="#2b3d5c"/>
<circle cx="226.50" cy="383.70" r="1.6" fill="#2b3d5c"/>
<circle cx="230.70" cy="387.00" r="1.6" fill="#2b3d5c"/>
<circle cx="221.80" cy="387.00" r="1.6" fill="#2b3d5c"/>
<circle cx="226.50" cy="389.80" r="1.6" fill="#2b3d5c"/>
<circle cx="222.40" cy="392.70" r="1.6" fill="#2b3d5c"/>
<circle cx="230.30" cy="389.40" r="1.6" fill="#2b3d5c"/>
<circle cx="244.60" cy="373.10" r="1.6" fill="#c8102e"/>
<circle cx="239.80" cy="380.00" r="1.6" fill="#c8102e"/>
<circle cx="249.70" cy="380.30" r="1.6" fill="#c8102e"/>
<circle cx="244.60" cy="387.00" r="1.6" fill="#c8102e"/>
<circle cx="239.80" cy="390.80" r="1.6" fill="#c8102e"/>
<circle cx="249.70" cy="391.30" r="1.6" fill="#c8102e"/>
<circle cx="258.80" cy="398.40" r="1.6" fill="#1d4a85"/>
<circle cx="267.90" cy="398.40" r="1.6" fill="#1d4a85"/>
<circle cx="263.10" cy="405.40" r="1.6" fill="#1d4a85"/>
<circle cx="263.10" cy="410.30" r="1.6" fill="#1d4a85"/>
<circle cx="258.80" cy="417.40" r="1.6" fill="#1d4a85"/>
<circle cx="267.90" cy="417.40" r="1.6" fill="#1d4a85"/>
<circle cx="281.50" cy="416.00" r="1.6" fill="#4b1a6b"/>
<circle cx="277.40" cy="420.50" r="1.6" fill="#4b1a6b"/>
<circle cx="286.30" cy="421.10" r="1.6" fill="#4b1a6b"/>
<circle cx="281.50" cy="424.30" r="1.6" fill="#4b1a6b"/>
<circle cx="281.50" cy="427.70" r="1.6" fill="#4b1a6b"/>
<circle cx="281.50" cy="431.50" r="1.6" fill="#4b1a6b"/>
<line x1="225.60" y1="362.30" x2="263.50" y2="362.30" stroke="#777" stroke-width="0.8" />
<text x="253.10" y="362.81" font-size="7" fill="#222" text-anchor="middle">*</text>
<line x1="244.00" y1="368.00" x2="281.90" y2="368.00" stroke="#777" stroke-width="0.8" />
<text x="265.40" y="368.51" font-size="7" fill="#222" text-anchor="middle">*</text>
<line x1="262.60" y1="388.90" x2="281.90" y2="388.90" stroke="#777" stroke-width="0.8" />
<text x="272.60" y="389.41" font-size="7" fill="#222" text-anchor="middle">*</text>
<text transform="translate(229.00,444.60) rotate(-45)" x="0" y="0" font-size="6.6" fill="#2a2a2a" text-anchor="end" textLength="22.50" lengthAdjust="spacingAndGlyphs">Control</text>
<text transform="translate(247.50,444.40) rotate(-45)" x="0" y="0" font-size="6.6" fill="#2a2a2a" text-anchor="end" textLength="26.50" lengthAdjust="spacingAndGlyphs">EHT1610</text>
<text transform="translate(265.50,444.20) rotate(-45)" x="0" y="0" font-size="6.6" fill="#2a2a2a" text-anchor="end" textLength="28.20" lengthAdjust="spacingAndGlyphs">Dinaciclib</text>
<text transform="translate(284.80,444.00) rotate(-45)" x="0" y="0" font-size="6.6" fill="#2a2a2a" text-anchor="end" textLength="39.00" lengthAdjust="spacingAndGlyphs">Combination</text>
<text x="212.20" y="480.86" font-size="6.6" fill="#2a2a2a" textLength="81.43" lengthAdjust="spacingAndGlyphs" >(n = 6) (n = 6) (n = 6) (n = 6)</text>
<text x="210.80" y="492.89" font-size="9.2" fill="#2a2a2a" textLength="84.23" lengthAdjust="spacingAndGlyphs" stroke="#2a2a2a" stroke-width="0.22">Day 35 after transplantation</text>
<text x="304.80" y="173.80" font-size="12.01" fill="#111" font-weight="bold" textLength="8.08" lengthAdjust="spacingAndGlyphs" >G</text>
<text x="364.60" y="170.80" font-size="8.2" fill="#2a2a2a" textLength="51.93" lengthAdjust="spacingAndGlyphs" >MEF2D-BCL9</text>
<text x="360.40" y="181.20" font-size="8.2" fill="#2a2a2a" textLength="60.54" lengthAdjust="spacingAndGlyphs" >(Relapsed) PDX</text>
<text transform="translate(308.90,230.50) rotate(-90)" x="-33.50" y="2.51" font-size="7" fill="#2a2a2a" textLength="67.00" lengthAdjust="spacingAndGlyphs">Percentage of survival</text>
<line x1="334.40" y1="189.40" x2="334.40" y2="267.80" stroke="#333" stroke-width="1.3" />
<line x1="331.00" y1="199.70" x2="334.40" y2="199.70" stroke="#333" stroke-width="1.1" />
<text x="317.70" y="202.06" font-size="6.6" fill="#2a2a2a" textLength="9.19" lengthAdjust="spacingAndGlyphs" >100</text>
<line x1="331.00" y1="233.45" x2="334.40" y2="233.45" stroke="#333" stroke-width="1.1" />
<text x="320.90" y="235.81" font-size="6.6" fill="#2a2a2a" textLength="6.01" lengthAdjust="spacingAndGlyphs" >50</text>
<line x1="331.00" y1="267.20" x2="334.40" y2="267.20" stroke="#333" stroke-width="1.1" />
<text x="323.90" y="269.56" font-size="6.6" fill="#2a2a2a" textLength="2.98" lengthAdjust="spacingAndGlyphs" >0</text>
<line x1="333.50" y1="267.20" x2="354.60" y2="267.20" stroke="#333" stroke-width="1.2" />
<line x1="361.50" y1="267.20" x2="446.50" y2="267.20" stroke="#333" stroke-width="1.2" />
<line x1="354.60" y1="264.70" x2="354.60" y2="269.70" stroke="#333" stroke-width="1" />
<line x1="361.50" y1="264.70" x2="361.50" y2="269.70" stroke="#333" stroke-width="1" />
<line x1="334.20" y1="267.20" x2="334.20" y2="270.20" stroke="#333" stroke-width="1" />
<line x1="348.00" y1="267.20" x2="348.00" y2="270.20" stroke="#333" stroke-width="1" />
<line x1="361.70" y1="267.20" x2="361.70" y2="270.20" stroke="#333" stroke-width="1" />
<line x1="389.50" y1="267.20" x2="389.50" y2="270.20" stroke="#333" stroke-width="1" />
<line x1="417.20" y1="267.20" x2="417.20" y2="270.20" stroke="#333" stroke-width="1" />
<line x1="445.00" y1="267.20" x2="445.00" y2="270.20" stroke="#333" stroke-width="1" />
<text x="334.20" y="279.46" font-size="6.6" fill="#2a2a2a" text-anchor="middle">0</text>
<text x="348.00" y="279.46" font-size="6.6" fill="#2a2a2a" text-anchor="middle">20</text>
<text x="361.70" y="279.46" font-size="6.6" fill="#2a2a2a" text-anchor="middle">30</text>
<text x="389.40" y="279.46" font-size="6.6" fill="#2a2a2a" text-anchor="middle">35</text>
<text x="417.00" y="279.46" font-size="6.6" fill="#2a2a2a" text-anchor="middle">40</text>
<text x="444.80" y="279.46" font-size="6.6" fill="#2a2a2a" text-anchor="middle">45</text>
<text x="383.90" y="290.00" font-size="9.0" fill="#2a2a2a" textLength="14.29" lengthAdjust="spacingAndGlyphs" stroke="#2a2a2a" stroke-width="0.2">Days</text>
<line x1="334.20" y1="199.80" x2="354.60" y2="199.80" stroke="#6d7f98" stroke-width="1.1" />
<path d="M361.50 199.80 L406.00 199.80 L406.00 228.71 L411.60 228.71 L411.60 247.92 L417.20 247.92 L417.20 267.20" stroke="#7b4d8e" stroke-width="1.1" fill="none" stroke-linejoin="miter" stroke-linecap="butt"/>
<path d="M361.50 199.80 L372.60 199.80 L372.60 209.44 L378.30 209.44 L378.30 228.71 L389.40 228.71 L389.40 238.29 L394.90 238.29 L394.90 247.92 L406.00 247.92 L406.00 267.20" stroke="#62b562" stroke-width="1.1" fill="none" stroke-linejoin="miter" stroke-linecap="butt"/>
<path d="M361.50 199.80 L367.10 199.80 L367.10 228.71 L372.60 228.71 L372.60 267.20" stroke="#d3263f" stroke-width="1.1" fill="none" stroke-linejoin="miter" stroke-linecap="butt"/>
<path d="M361.50 199.80 L367.10 199.80 L367.10 233.50 L372.60 233.50 L372.60 267.20" stroke="#4f76a6" stroke-width="1.1" fill="none" stroke-linejoin="miter" stroke-linecap="butt"/>
<line x1="361.50" y1="199.80" x2="367.10" y2="199.80" stroke="#4d6a90" stroke-width="1.1" />
<line x1="367.10" y1="233.50" x2="372.60" y2="233.50" stroke="#2a2a3a" stroke-width="1.1" />
<line x1="434.10" y1="199.00" x2="443.30" y2="199.00" stroke="#4f76a6" stroke-width="1.1" />
<line x1="438.70" y1="197.40" x2="438.70" y2="199.00" stroke="#4f76a6" stroke-width="0.9" />
<line x1="434.10" y1="210.00" x2="443.30" y2="210.00" stroke="#d3263f" stroke-width="1.1" />
<line x1="438.70" y1="208.40" x2="438.70" y2="210.00" stroke="#d3263f" stroke-width="0.9" />
<line x1="434.10" y1="221.50" x2="443.30" y2="221.50" stroke="#62b562" stroke-width="1.1" />
<line x1="438.70" y1="219.90" x2="438.70" y2="221.50" stroke="#62b562" stroke-width="0.9" />
<line x1="434.10" y1="233.20" x2="443.30" y2="233.20" stroke="#7b4d8e" stroke-width="1.1" />
<line x1="438.70" y1="231.60" x2="438.70" y2="233.20" stroke="#7b4d8e" stroke-width="0.9" />
<text x="446.60" y="200.56" font-size="6.6" fill="#2a2a2a" textLength="41.39" lengthAdjust="spacingAndGlyphs" >vehicle (n = 6)</text>
<text x="446.60" y="211.56" font-size="6.6" fill="#2a2a2a" textLength="47.50" lengthAdjust="spacingAndGlyphs" >EHT1610 (n = 7)</text>
<text x="446.60" y="223.06" font-size="6.6" fill="#2a2a2a" textLength="49.43" lengthAdjust="spacingAndGlyphs" >Dinaciclib (n = 7)</text>
<text x="446.60" y="234.76" font-size="6.6" fill="#2a2a2a" textLength="28.38" lengthAdjust="spacingAndGlyphs" >EHT1610 +</text>
<text x="446.60" y="242.16" font-size="6.6" fill="#2a2a2a" textLength="48.89" lengthAdjust="spacingAndGlyphs" >dinaciclib (n = 7)</text>
<line x1="498.60" y1="222.40" x2="498.60" y2="232.90" stroke="#444" stroke-width="0.8" />
<text x="500.80" y="230.87" font-size="5.5" fill="#222" text-anchor="middle">*</text>
<line x1="503.40" y1="209.80" x2="503.40" y2="233.10" stroke="#444" stroke-width="0.8" />
<text x="506.30" y="223.77" font-size="5.5" fill="#222" text-anchor="middle">*</text>
<line x1="508.50" y1="197.70" x2="508.50" y2="221.90" stroke="#444" stroke-width="0.8" />
<text x="511.80" y="212.77" font-size="5.5" fill="#222" text-anchor="middle">*</text>
<text x="304.20" y="345.70" font-size="12.15" fill="#111" font-weight="bold" textLength="5.86" lengthAdjust="spacingAndGlyphs" >J</text>
<text x="370.70" y="346.24" font-size="8.5" fill="#2a2a2a" textLength="45.71" lengthAdjust="spacingAndGlyphs" >Ph-like PDX</text>
<text transform="translate(308.90,396.50) rotate(-90)" x="-33.50" y="2.51" font-size="7" fill="#2a2a2a" textLength="67.00" lengthAdjust="spacingAndGlyphs">Percentage of survival</text>
<line x1="334.40" y1="356.60" x2="334.40" y2="435.40" stroke="#333" stroke-width="1.3" />
<line x1="331.00" y1="365.10" x2="334.40" y2="365.10" stroke="#333" stroke-width="1.1" />
<text x="317.70" y="367.46" font-size="6.6" fill="#2a2a2a" textLength="9.19" lengthAdjust="spacingAndGlyphs" >100</text>
<line x1="331.00" y1="399.95" x2="334.40" y2="399.95" stroke="#333" stroke-width="1.1" />
<text x="320.90" y="402.31" font-size="6.6" fill="#2a2a2a" textLength="6.01" lengthAdjust="spacingAndGlyphs" >50</text>
<line x1="331.00" y1="434.80" x2="334.40" y2="434.80" stroke="#333" stroke-width="1.1" />
<text x="323.90" y="437.16" font-size="6.6" fill="#2a2a2a" textLength="2.98" lengthAdjust="spacingAndGlyphs" >0</text>
<line x1="333.50" y1="434.80" x2="361.00" y2="434.80" stroke="#333" stroke-width="1.2" />
<line x1="368.30" y1="434.80" x2="451.50" y2="434.80" stroke="#333" stroke-width="1.2" />
<line x1="361.00" y1="432.30" x2="361.00" y2="437.30" stroke="#333" stroke-width="1" />
<line x1="368.30" y1="432.30" x2="368.30" y2="437.30" stroke="#333" stroke-width="1" />
<line x1="334.20" y1="434.80" x2="334.20" y2="437.80" stroke="#333" stroke-width="1" />
<line x1="350.80" y1="434.80" x2="350.80" y2="437.80" stroke="#333" stroke-width="1" />
<line x1="368.50" y1="434.80" x2="368.50" y2="437.80" stroke="#333" stroke-width="1" />
<line x1="384.50" y1="434.80" x2="384.50" y2="437.80" stroke="#333" stroke-width="1" />
<line x1="400.50" y1="434.80" x2="400.50" y2="437.80" stroke="#333" stroke-width="1" />
<line x1="416.50" y1="434.80" x2="416.50" y2="437.80" stroke="#333" stroke-width="1" />
<line x1="432.50" y1="434.80" x2="432.50" y2="437.80" stroke="#333" stroke-width="1" />
<line x1="448.50" y1="434.80" x2="448.50" y2="437.80" stroke="#333" stroke-width="1" />
<text x="334.20" y="446.96" font-size="6.6" fill="#2a2a2a" text-anchor="middle">0</text>
<text x="350.80" y="446.96" font-size="6.6" fill="#2a2a2a" text-anchor="middle">25</text>
<text x="368.30" y="446.96" font-size="6.6" fill="#2a2a2a" text-anchor="middle">50</text>
<text x="383.90" y="446.96" font-size="6.6" fill="#2a2a2a" text-anchor="middle">60</text>
<text x="400.00" y="446.96" font-size="6.6" fill="#2a2a2a" text-anchor="middle">70</text>
<text x="416.30" y="446.96" font-size="6.6" fill="#2a2a2a" text-anchor="middle">80</text>
<text x="432.90" y="446.96" font-size="6.6" fill="#2a2a2a" text-anchor="middle">90</text>
<text x="449.20" y="446.96" font-size="6.6" fill="#2a2a2a" text-anchor="middle">100</text>
<text x="351.70" y="459.19" font-size="9.2" fill="#2a2a2a" textLength="76.93" lengthAdjust="spacingAndGlyphs" stroke="#2a2a2a" stroke-width="0.22">Days after transplantation</text>
<line x1="334.20" y1="365.10" x2="361.00" y2="365.10" stroke="#6d7f98" stroke-width="1.1" />
<path d="M368.50 365.10 L398.50 365.10 L398.50 376.74 L407.10 376.74 L407.10 388.31 L421.90 388.31 L421.90 411.59 L423.80 411.59 L423.80 423.16 L428.30 423.16 L428.30 434.80" stroke="#7b4d8e" stroke-width="1.1" fill="none" stroke-linejoin="miter" stroke-linecap="butt"/>
<path d="M368.50 365.10 L394.40 365.10 L394.40 388.31 L395.60 388.31 L395.60 399.95 L399.40 399.95 L399.40 411.59 L407.10 411.59 L407.10 434.80" stroke="#62b562" stroke-width="1.1" fill="none" stroke-linejoin="miter" stroke-linecap="butt"/>
<path d="M368.50 365.10 L373.20 365.10 L373.20 376.74 L376.80 376.74 L376.80 388.31 L378.60 388.31 L378.60 399.95 L394.60 399.95 L394.60 411.59 L395.40 411.59 L395.40 423.16 L399.40 423.16 L399.40 434.80" stroke="#d3263f" stroke-width="1.1" fill="none" stroke-linejoin="miter" stroke-linecap="butt"/>
<path d="M368.50 365.10 L373.80 365.10 L373.80 376.74 L376.30 376.74 L376.30 399.95 L379.20 399.95 L379.20 411.59 L394.20 411.59 L394.20 434.80" stroke="#4f76a6" stroke-width="1.1" fill="none" stroke-linejoin="miter" stroke-linecap="butt"/>
<line x1="430.60" y1="366.40" x2="439.80" y2="366.40" stroke="#4f76a6" stroke-width="1.1" />
<line x1="435.20" y1="364.80" x2="435.20" y2="366.40" stroke="#4f76a6" stroke-width="0.9" />
<line x1="430.60" y1="377.90" x2="439.80" y2="377.90" stroke="#d3263f" stroke-width="1.1" />
<line x1="435.20" y1="376.30" x2="435.20" y2="377.90" stroke="#d3263f" stroke-width="0.9" />
<line x1="430.60" y1="389.50" x2="439.80" y2="389.50" stroke="#62b562" stroke-width="1.1" />
<line x1="435.20" y1="387.90" x2="435.20" y2="389.50" stroke="#62b562" stroke-width="0.9" />
<line x1="430.60" y1="401.00" x2="439.80" y2="401.00" stroke="#7b4d8e" stroke-width="1.1" />
<line x1="435.20" y1="399.40" x2="435.20" y2="401.00" stroke="#7b4d8e" stroke-width="0.9" />
<text x="443.50" y="367.96" font-size="6.6" fill="#2a2a2a" textLength="41.90" lengthAdjust="spacingAndGlyphs" >Vehicle (n = 6)</text>
<text x="443.50" y="379.46" font-size="6.6" fill="#2a2a2a" textLength="47.70" lengthAdjust="spacingAndGlyphs" >EHT1610 (n = 6)</text>
<text x="443.50" y="391.06" font-size="6.6" fill="#2a2a2a" textLength="49.23" lengthAdjust="spacingAndGlyphs" >Dinaciclib (n = 6)</text>
<text x="443.50" y="402.56" font-size="6.6" fill="#2a2a2a" textLength="28.48" lengthAdjust="spacingAndGlyphs" >EHT1610 +</text>
<text x="443.50" y="409.76" font-size="6.6" fill="#2a2a2a" textLength="48.49" lengthAdjust="spacingAndGlyphs" >dinaciclib (n = 6)</text>
<line x1="495.40" y1="389.60" x2="495.40" y2="400.80" stroke="#444" stroke-width="0.8" />
<text x="497.90" y="398.37" font-size="5.5" fill="#222" text-anchor="middle">*</text>
<line x1="500.40" y1="377.70" x2="500.40" y2="400.80" stroke="#444" stroke-width="0.8" />
<text x="503.00" y="390.97" font-size="5.5" fill="#222" text-anchor="middle">*</text>
<line x1="505.20" y1="365.60" x2="505.20" y2="389.60" stroke="#444" stroke-width="0.8" />
<text x="508.50" y="380.07" font-size="5.5" fill="#222" text-anchor="middle">*</text>
<rect x="0.5" y="0.5" width="519" height="500" fill="none" stroke="#555" stroke-width="1"/>
</svg>
</body></html>
